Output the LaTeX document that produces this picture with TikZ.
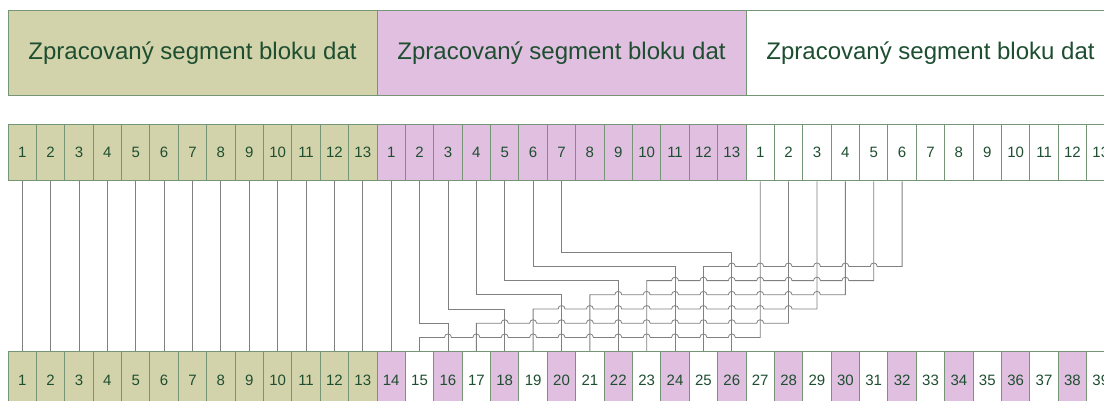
\documentclass[tikz,border=0pt]{standalone}
\usepackage{fontspec}
\setmainfont{Liberation Sans}
\usetikzlibrary{calc}
\definecolor{olivec}{RGB}{211,211,171}
\definecolor{pinkc}{RGB}{224,191,224}
\definecolor{txtc}{RGB}{30,78,48}
\definecolor{bordc}{RGB}{118,148,118}
\definecolor{linec}{RGB}{128,128,128}
\begin{document}
\begin{tikzpicture}[x=1pt,y=1pt,
  seg/.style={draw=bordc, line width=0.8pt, minimum width=369pt, minimum height=84.8pt, inner sep=0pt, text=txtc, font=\fontsize{24}{28}\selectfont},
  cell/.style={draw=bordc, line width=1pt, minimum width=28.385pt, minimum height=56.7pt, inner sep=0pt, text=txtc, font=\fontsize{15}{18}\selectfont},
  conn/.style={draw=linec, line width=0.8pt}]
\useasboundingbox (0,0) rectangle (1104,-401);
\clip (0,0) rectangle (1104,-401);
% segments
\node[seg, fill=olivec] (s1) at (192.5,-53.1) {Zpracovaný segment bloku dat};
\node[seg, fill=pinkc] (s2) at (561.5,-53.1) {Zpracovaný segment bloku dat};
\node[seg, fill=white] (s3) at (930.5,-53.1) {Zpracovaný segment bloku dat};
% top cells
\foreach \c in {1,...,39}{
  \pgfmathtruncatemacro\lab{mod(\c-1,13)+1}
  \pgfmathtruncatemacro\sg{int((\c-1)/13)}
  \ifcase\sg \def\fc{olivec}\or \def\fc{pinkc}\else \def\fc{white}\fi
  \node[cell, fill=\fc] (t\c) at ({8+(\c-0.5)*28.385}, -152.65) {\lab};
}
% bottom cells
\foreach \c in {1,...,39}{
  \ifnum\c<14 \def\fc{olivec}\else\ifodd\c \def\fc{white}\else \def\fc{pinkc}\fi\fi
  \node[cell, fill=\fc] (b\c) at ({8+(\c-0.5)*28.385}, -380.05) {\c};
}
% levels
\foreach \n in {1,...,7}{
  \coordinate (L\n) at (0,{-(337.4-(\n-1)*14.19)});
}
% straight connections
\foreach \c in {1,...,14}{
  \draw[conn] (t\c.south) -- (b\c.north);
}
% pink connections (rightwards)
\foreach \i in {2,...,7}{
  \pgfmathtruncatemacro\s{13+\i}
  \pgfmathtruncatemacro\d{12+2*\i}
  \draw[conn] (t\s.south) -- (t\s.south |- L\i) -- (b\d.north |- L\i) -- (b\d.north);
}
% white connections (leftwards, with line jumps)
\foreach \j in {1,...,6}{
  \pgfmathtruncatemacro\s{26+\j}
  \pgfmathtruncatemacro\d{13+2*\j}
  \pgfmathtruncatemacro\hi{25+\j}
  \pgfmathtruncatemacro\lo{14+2*\j}
  \draw[conn] (t\s.south) -- (t\s.south |- L\j)
    \foreach \k in {\hi,...,\lo}{
      -- ($(b\k.north |- L\j)+(3.5,0)$) arc[start angle=0, end angle=180, radius=3.5pt]
    }
    -- (b\d.north |- L\j) -- (b\d.north);
}
\end{tikzpicture}
\end{document}
